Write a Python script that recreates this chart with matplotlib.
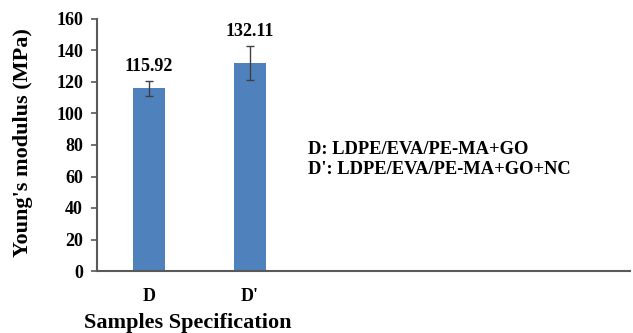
import matplotlib.pyplot as plt
import numpy as np

samples   = ['D', "D'"]
modulus   = [115.92, 132.11]
err       = [5, 11]
labels    = ['115.92', '132.11']
legend_txt = ["D: LDPE/EVA/PE-MA+GO", "D': LDPE/EVA/PE-MA+GO+NC"]

plt.rcParams['font.family'] = 'Liberation Serif'
plt.rcParams['font.weight'] = 'bold'

fig = plt.figure(figsize=(6.33, 3.33), dpi=100)
ax = fig.add_axes([97/633, 1-271/333, 533/633, 252/333])

x = np.arange(len(samples))
ax.bar(x, modulus, width=0.32, color='#4F81BD', zorder=2)
ax.errorbar(x, modulus, yerr=err, fmt='none', ecolor='#404040',
            elinewidth=1, capsize=3, capthick=1, zorder=3)
for xi, v, e, t in zip(x, modulus, err, labels):
    ax.annotate(t, (xi, v+e), xytext=(0, 4), textcoords='offset points',
                ha='center', va='bottom', fontsize=13, fontweight='bold')

ax.set_xlim(-0.515, 4.76)
ax.set_ylim(0, 160)
ax.set_yticks(np.arange(0, 161, 20))
ax.set_xticks(x)
ax.set_xticklabels(samples)
ax.tick_params(axis='x', length=0, pad=12, labelsize=13)
ax.tick_params(axis='y', length=4.5, width=1.2, color='#595959', labelsize=13, pad=5.5)
for lab in ax.get_xticklabels() + ax.get_yticklabels():
    lab.set_fontweight('bold')
for s in ['top', 'right']:
    ax.spines[s].set_visible(False)
for s in ['left', 'bottom']:
    ax.spines[s].set_color('#595959')
    ax.spines[s].set_linewidth(1.5)

fig.text(23/633, 1-143/333, "Young's modulus (MPa)", rotation=90, ha='center',
         va='center', fontsize=16, fontweight='bold')
fig.text(188/633, 1-323/333, 'Samples Specification', ha='center', va='center',
         fontsize=16, fontweight='bold')
fig.text(308/633, 1-149/333, legend_txt[0], ha='left', va='center',
         fontsize=13.3, fontweight='bold')
fig.text(308/633, 1-170/333, legend_txt[1], ha='left', va='center',
         fontsize=13.3, fontweight='bold')

plt.savefig('out.png', dpi=100)
plt.close()
